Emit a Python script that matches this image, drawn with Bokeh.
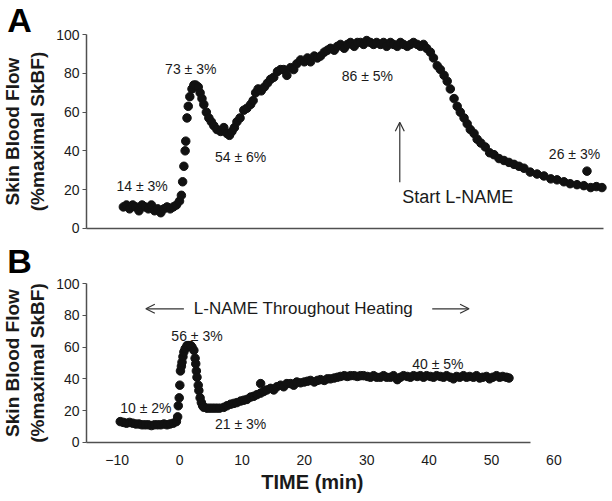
from bokeh.plotting import figure
from bokeh.layouts import column
from bokeh.models import Label, Arrow, OpenHead, FixedTicker, ColumnDataSource, Range1d, LinearAxis
from bokeh.core.properties import value
from bokeh.embed import file_html
from bokeh.resources import INLINE

# ---------------- data ----------------
a_time = [-9, -8.5, -8, -7.5, -7, -6.5, -6, -5.5, -5, -4.5, -4, -3.5, -3, -2.5, -2, -1.5, -1, -0.5, 0,
          0.3, 0.5, 0.7, 0.9, 1.0, 1.2, 1.4, 1.65, 2.0, 2.3, 2.6, 3.0, 3.3, 3.6, 3.9, 4.3, 4.7, 5.1, 5.5,
          6.0, 6.6, 7.1, 7.6, 8.0, 8.4, 8.8, 9.2, 9.7, 10.3, 10.8, 11.4, 11.8, 12.2, 12.6, 13.1, 13.6,
          14.1, 14.6, 15.1, 15.7, 16.2, 16.7, 17.2, 17.8, 18.3, 18.8, 19.4, 20.0, 20.5, 21.0, 21.6, 22.1,
          22.6, 23.2, 23.7, 24.2, 24.8, 25.3, 25.8, 26.4, 26.9, 27.4, 28.0, 28.5, 29.0, 29.5, 30.0, 30.6,
          31.1, 31.6, 32.2, 32.7, 33.2, 33.8, 34.3, 34.9, 35.4, 35.9, 36.5, 37.0, 37.5, 38.1, 38.6, 39.1,
          39.6, 40.2, 40.7, 41.3, 41.8, 42.4, 42.9, 43.4, 44.0, 44.5, 45.0, 45.6, 46.1, 46.6, 47.2, 47.7,
          48.3, 49.0, 49.7, 50.4, 51.2, 52.0, 52.8, 53.6, 54.4, 55.2, 56.2, 57.3, 58.4, 59.5, 60.5, 61.6,
          62.6, 63.7, 64.8, 65.3, 65.9, 66.8, 67.7]
a_flow = [11, 12, 10, 12, 11, 9, 12, 11, 10, 12, 9, 10, 8, 10, 11, 10, 11, 12, 14,
          17, 24, 32, 40, 45, 57, 63, 68, 72, 74, 74, 73, 70, 67, 64, 60, 57, 55, 53,
          51, 50, 52, 49, 48, 50, 52, 55, 57, 61, 62, 64, 66, 70, 72, 71, 73,
          75, 77, 78, 81, 82, 82, 79, 83, 82, 85, 87, 86, 88, 86, 89, 88,
          89, 91, 92, 93, 92, 94, 95, 93, 95, 96, 94, 96, 96, 95, 97, 96,
          95, 96, 95, 96, 94, 96, 95, 94, 96, 95, 94, 95, 96, 95, 94, 95,
          93, 91, 88, 84, 82, 79, 76, 72, 67, 63, 60, 57, 54, 51, 49, 46,
          44, 42, 39, 38, 36, 35, 34, 33, 32, 31, 29, 28, 27, 25.5, 25, 24,
          23, 22.5, 22, 29.5, 21, 21.5, 21]

b_time = [-9.5, -9, -8.5, -8, -7.5, -7, -6.5, -6, -5.5, -5, -4.5, -4, -3.5, -3, -2.5, -2, -1.5, -1, -0.5, -0.3,
          -0.2, -0.05, 0.05, 0.15, 0.3, 0.4, 0.55, 0.7, 0.9, 1.2, 1.5, 1.8, 2.0, 2.3, 2.5, 2.6, 2.7, 2.8,
          3.0, 3.1, 3.3, 3.5, 3.7, 3.9, 4.4, 4.9, 5.4, 5.9, 6.4, 7.1, 7.6, 8.2, 8.7, 9.2, 9.8, 10.3, 10.8,
          11.4, 11.9, 12.4, 13.0, 13.0, 13.5, 14.0, 14.6, 15.1, 15.6, 16.2, 16.7, 17.2, 17.8, 18.3, 18.8,
          19.4, 20.0, 20.5, 21.0, 21.6, 22.1, 22.6, 23.2, 23.7, 24.2, 24.8, 25.3, 25.8, 26.4, 26.9, 27.4,
          28.0, 28.5, 29.0, 29.5, 30.1, 30.6, 31.1, 31.6, 32.2, 32.7, 33.2, 33.8, 34.3, 34.9, 35.4, 35.9,
          36.5, 37.0, 37.5, 38.1, 38.6, 39.1, 39.6, 40.2, 40.7, 41.2, 41.8, 42.3, 42.8, 43.4, 43.9, 44.4,
          44.9, 45.5, 46.0, 46.5, 47.1, 47.6, 48.1, 48.6, 49.2, 49.7, 50.2, 50.8, 51.3, 51.8, 52.4, 52.8]
b_flow = [13, 12.5, 12, 12.5, 12, 11.5, 11.5, 11, 11, 11, 10.5, 11, 11, 11, 11.5, 11, 11.5, 12, 13, 16,
          23, 28, 36, 45, 48, 50.5, 54, 57, 59, 61, 61, 61, 60, 58, 53, 49.5, 45, 41,
          36, 32.6, 28, 25, 23, 22, 21.5, 21.5, 21.5, 21.5, 21.5, 22, 23, 24, 24.5, 25, 26, 26.5, 27,
          28.5, 29, 30, 31, 37, 32, 33, 34, 33, 35, 36, 35, 37, 37, 36, 38,
          37.5, 38, 38.5, 39, 38, 39, 39.5, 39, 40, 40, 40.5, 41, 41.5, 42, 41.5, 42,
          42, 41.5, 42, 42, 41.5, 41, 42, 41, 41, 42, 41, 41, 42, 39.5, 41, 42,
          41.5, 41, 42, 41.5, 42, 41, 42, 41.5, 41, 42, 41.5, 41, 42, 41, 40, 41.5,
          41, 42, 41, 41.5, 41, 42, 40.5, 41, 41.5, 40, 41, 42, 41, 41.5, 41, 40.5]

x_ticks = [-10, 0, 10, 20, 30, 40, 50, 60]
y_ticks = [0, 20, 40, 60, 80, 100]

a_notes = ["14 \u00b1 3%", "73 \u00b1 3%", "54 \u00b1 6%", "86 \u00b1 5%", "26 \u00b1 3%"]
a_note_x = [-6.0, 1.8, 9.8, 30.1, 63.3]
a_note_y = [21.6, 82.4, 36.7, 78.6, 38.5]
b_notes = ["10 \u00b1 2%", "56 \u00b1 3%", "21 \u00b1 3%", "40 \u00b1 5%"]
b_note_x = [-5.4, 2.8, 9.8, 41.4]
b_note_y = [21.5, 66.9, 11.6, 49.5]

# ---------------- styling constants ----------------
FONT = "Liberation Sans"
INK = "#1a1a1a"
AXC = "#505050"
Y_TITLE = "Skin Blood Flow\n(%maximal SkBF)"
X_VIEW = (-28.69, 69.39)    # visible time window (frame spans the whole canvas)
X_AXIS_START = -14.9        # where the drawn axes start
A_X_END = 68.0
B_X_END = 56.2


def make_panel(height, y_view, x_end, letter, letter_y):
    p = figure(width=612, height=height, output_backend="svg", toolbar_location=None,
               x_range=Range1d(*X_VIEW), y_range=Range1d(*y_view),
               min_border_left=0, min_border_right=0, min_border_top=0, min_border_bottom=0)
    p.outline_line_color = None
    p.xgrid.grid_line_color = None
    p.ygrid.grid_line_color = None
    ya = p.yaxis[0]
    ya.fixed_location = X_AXIS_START
    ya.bounds = (y_ticks[0], y_ticks[-1])
    ya.ticker = FixedTicker(ticks=y_ticks)
    ya.minor_tick_line_color = None
    ya.major_tick_out = 4
    ya.major_tick_in = 0
    ya.major_tick_line_color = AXC
    ya.axis_line_color = AXC
    ya.axis_line_width = 1.5
    ya.major_label_text_font = FONT
    ya.major_label_text_font_size = "14px"
    ya.major_label_text_color = INK
    ya.major_label_standoff = 3
    ya.axis_label = Y_TITLE
    ya.axis_label_text_font = FONT
    ya.axis_label_text_font_size = "19px"
    ya.axis_label_text_font_style = "bold"
    ya.axis_label_text_color = INK
    ya.axis_label_standoff = 5
    xa = p.xaxis[0]
    xa.fixed_location = 0
    xa.bounds = (X_AXIS_START, x_end)
    xa.ticker = FixedTicker(ticks=[])
    xa.axis_line_color = AXC
    xa.axis_line_width = 1.5
    xa.minor_tick_line_color = None
    xa.major_tick_line_color = None
    xa.major_label_text_font_size = "0px"
    p.add_layout(Label(x=-25.64, y=letter_y, text=letter, text_font=FONT, text_font_size="34px",
                       text_font_style="bold", text_color="#000000", text_align="center",
                       text_baseline="middle"))
    return p


# ---------------- panel A ----------------
pA = make_panel(236, (-4.29, 117.7), A_X_END, "A", 107.7)
pA.scatter(a_time, a_flow, size=8.5, color="#111111")
srcA = ColumnDataSource(dict(x=a_note_x, y=a_note_y, t=a_notes))
pA.text("x", "y", "t", source=srcA, text_font=value(FONT), text_font_size="14px",
        text_color=INK, text_align="center", text_baseline="middle")
pA.add_layout(Arrow(end=OpenHead(size=9, line_color="#333333", line_width=1.2),
                    x_start=35.3, y_start=23.8, x_end=35.3, y_end=54.8,
                    line_color="#333333", line_width=1.2))
pA.add_layout(Label(x=35.7, y=16, text="Start L-NAME", text_font=FONT, text_font_size="18px",
                    text_color=INK, text_align="left", text_baseline="middle"))

# ---------------- panel B ----------------
pB = make_panel(264, (-36.8, 129.86), B_X_END, "B", 114.4)
tick_axis = LinearAxis(fixed_location=0, ticker=FixedTicker(ticks=x_ticks),
                       axis_line_color=None, major_tick_line_color=None,
                       minor_tick_line_color=None, major_label_standoff=7,
                       major_label_text_font=FONT, major_label_text_font_size="14px",
                       major_label_text_color=INK)
pB.add_layout(tick_axis, "below")
pB.scatter(b_time, b_flow, size=8.5, color="#111111")
srcB = ColumnDataSource(dict(x=b_note_x, y=b_note_y, t=b_notes))
pB.text("x", "y", "t", source=srcB, text_font=value(FONT), text_font_size="14px",
        text_color=INK, text_align="center", text_baseline="middle")
pB.add_layout(Label(x=2.3, y=84.2, text="L-NAME Throughout Heating", text_font=FONT,
                    text_font_size="17px", text_color=INK, text_align="left", text_baseline="middle"))
pB.add_layout(Arrow(end=OpenHead(size=9, line_color="#333333", line_width=1.2),
                    x_start=0.7, y_start=84.2, x_end=-5.4, y_end=84.2,
                    line_color="#333333", line_width=1.2))
pB.add_layout(Arrow(end=OpenHead(size=9, line_color="#333333", line_width=1.2),
                    x_start=40.5, y_start=84.2, x_end=46.4, y_end=84.2,
                    line_color="#333333", line_width=1.2))
pB.add_layout(Label(x=21.3, y=-25.3, text="TIME (min)", text_font=FONT, text_font_size="20px",
                    text_font_style="bold", text_color=INK, text_align="center",
                    text_baseline="middle"))

layout = column(pA, pB, spacing=0)
open("out.html", "w").write(file_html(layout, INLINE))
